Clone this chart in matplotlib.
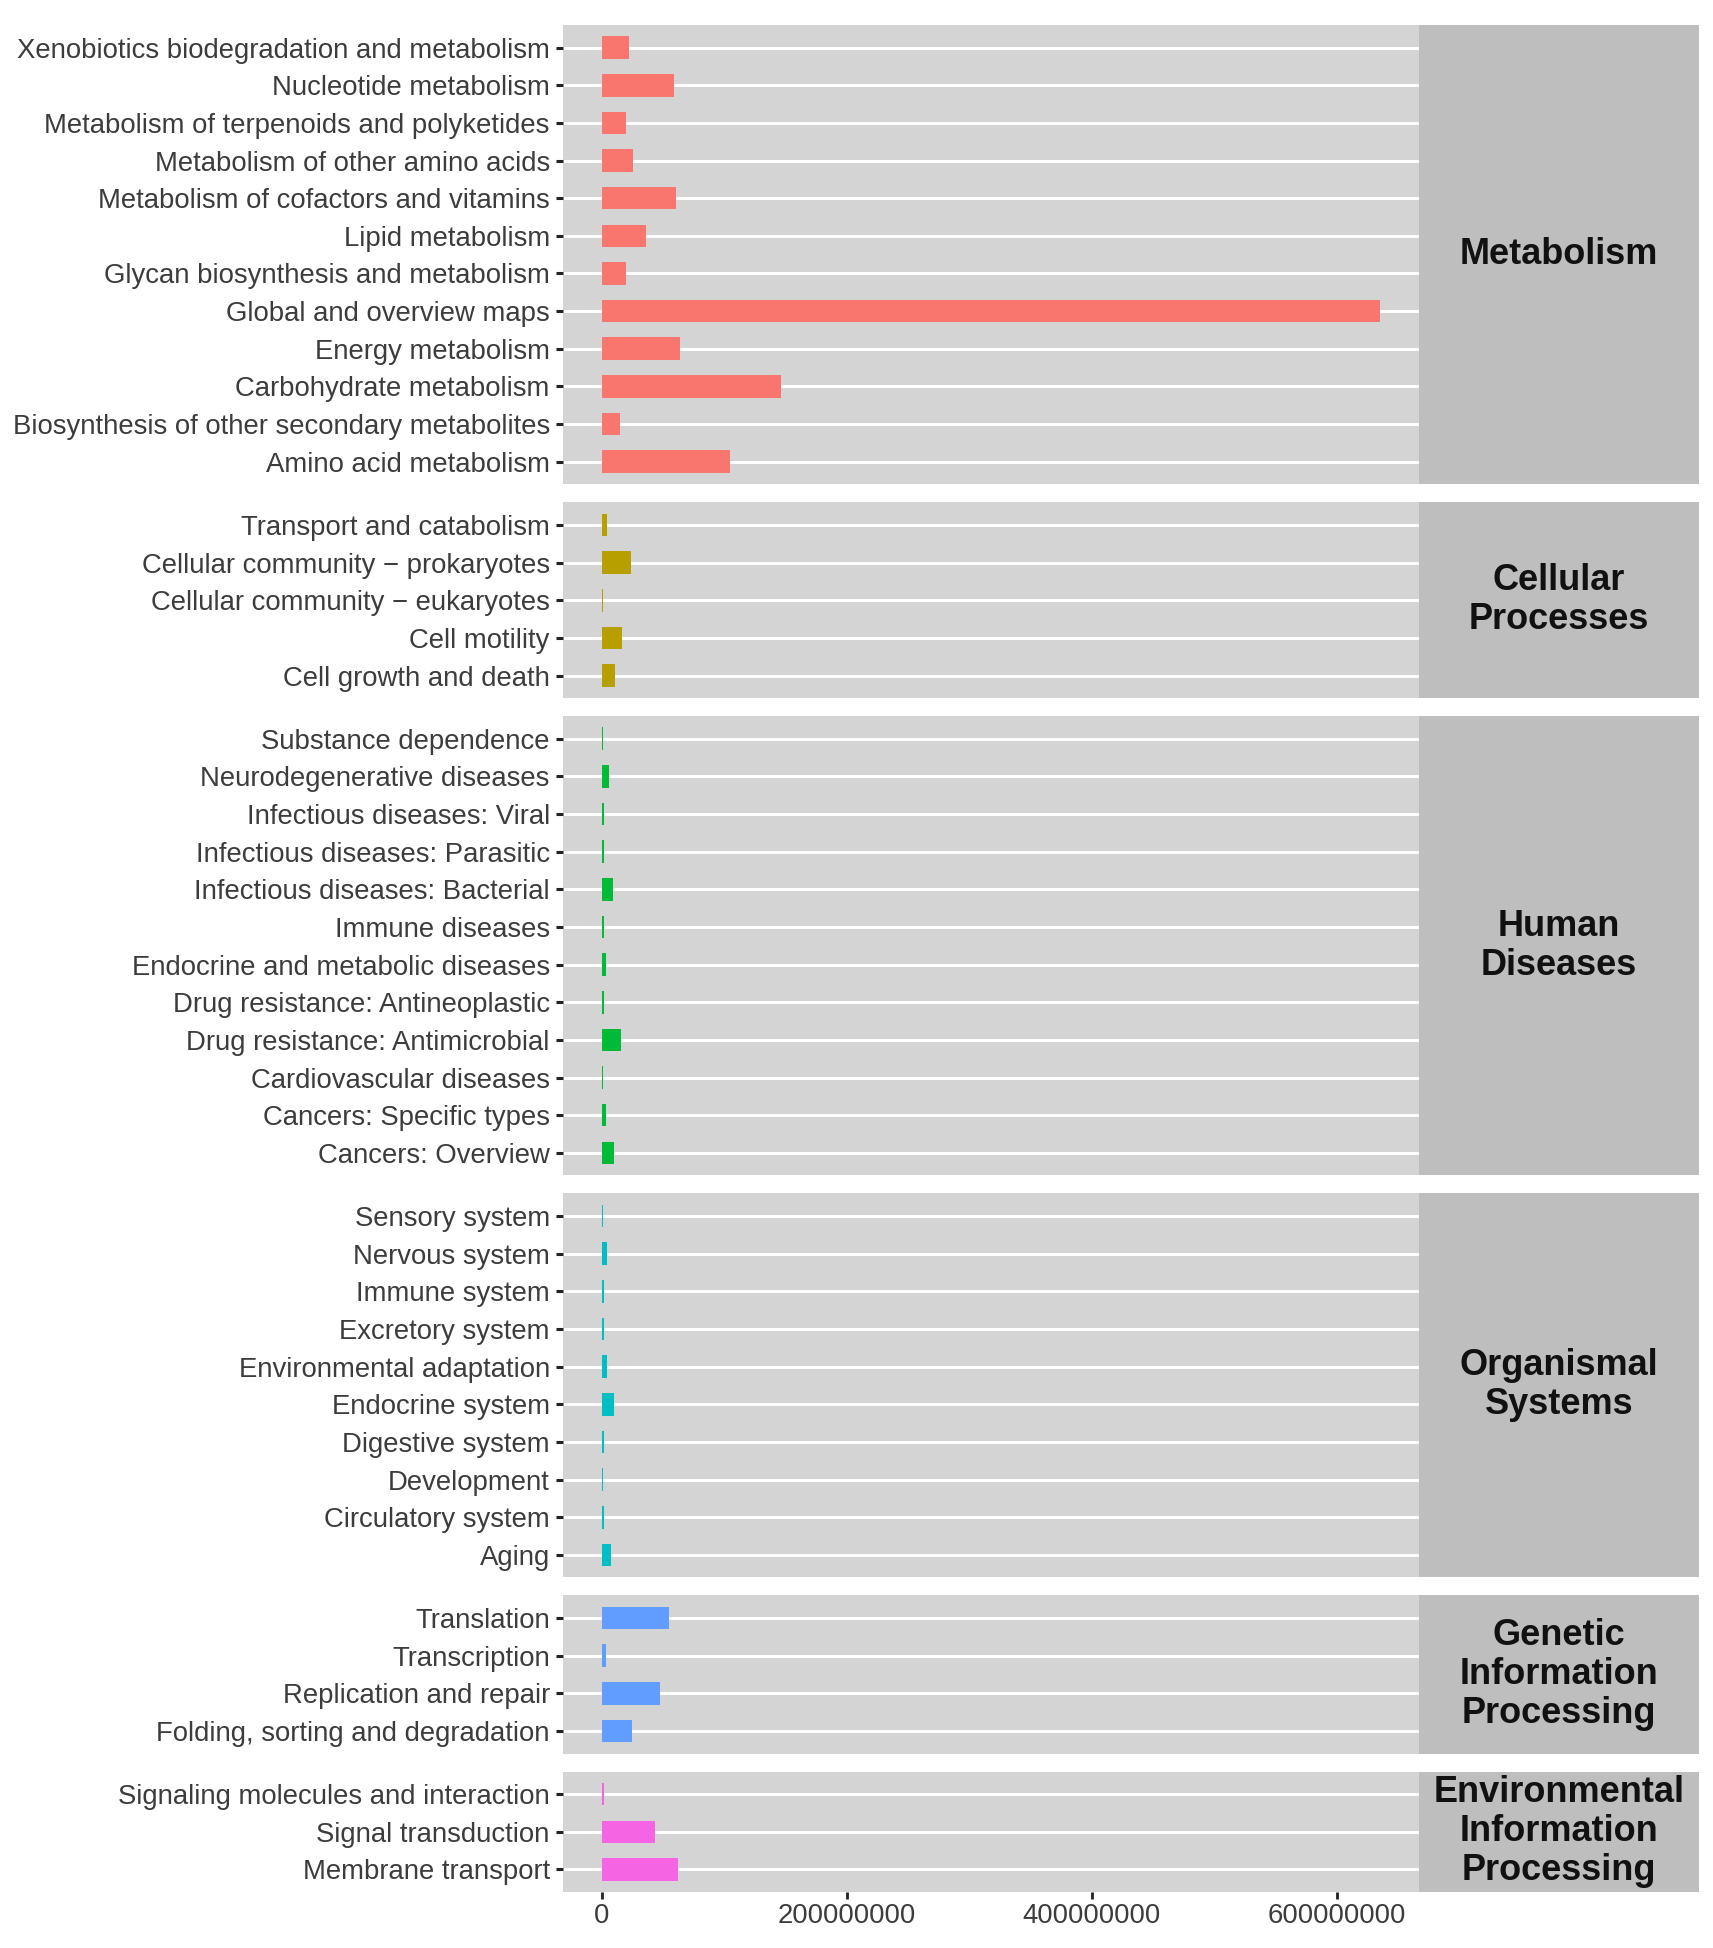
import matplotlib
matplotlib.use("Agg")
import matplotlib.pyplot as plt
from matplotlib.ticker import FixedLocator, FuncFormatter

# ---------------- data (top-to-bottom order as displayed) ----------------
categories = ["Metabolism", "Cellular Processes", "Human Diseases",
              "Organismal Systems", "Genetic Information Processing",
              "Environmental Information Processing"]
strip_labels = ["Metabolism", "Cellular\nProcesses", "Human\nDiseases",
                "Organismal\nSystems", "Genetic\nInformation\nProcessing",
                "Environmental\nInformation\nProcessing"]
colors = ["#F8766D", "#B79F00", "#00BA38", "#00BFC4", "#619CFF", "#F564E3"]

metabolism_terms = ["Xenobiotics biodegradation and metabolism", "Nucleotide metabolism",
                    "Metabolism of terpenoids and polyketides", "Metabolism of other amino acids",
                    "Metabolism of cofactors and vitamins", "Lipid metabolism",
                    "Glycan biosynthesis and metabolism", "Global and overview maps",
                    "Energy metabolism", "Carbohydrate metabolism",
                    "Biosynthesis of other secondary metabolites", "Amino acid metabolism"]
metabolism_values = [21800000, 58700000, 20000000, 25400000, 60500000, 36300000,
                     20000000, 635500000, 64000000, 146000000, 15000000, 104600000]

cellular_terms = ["Transport and catabolism", "Cellular community \u2212 prokaryotes",
                  "Cellular community \u2212 eukaryotes", "Cell motility", "Cell growth and death"]
cellular_values = [4400000, 23700000, 500000, 16000000, 10900000]

human_terms = ["Substance dependence", "Neurodegenerative diseases", "Infectious diseases: Viral",
               "Infectious diseases: Parasitic", "Infectious diseases: Bacterial", "Immune diseases",
               "Endocrine and metabolic diseases", "Drug resistance: Antineoplastic",
               "Drug resistance: Antimicrobial", "Cardiovascular diseases",
               "Cancers: Specific types", "Cancers: Overview"]
human_values = [600000, 5400000, 1600000, 1600000, 9000000, 1600000,
                3500000, 1600000, 15200000, 800000, 3000000, 9800000]

organismal_terms = ["Sensory system", "Nervous system", "Immune system", "Excretory system",
                    "Environmental adaptation", "Endocrine system", "Digestive system",
                    "Development", "Circulatory system", "Aging"]
organismal_values = [500000, 3800000, 1900000, 1600000, 3800000, 9500000,
                     1900000, 500000, 1600000, 7100000]

genetic_terms = ["Translation", "Transcription", "Replication and repair",
                 "Folding, sorting and degradation"]
genetic_values = [54800000, 3700000, 47700000, 24200000]

environmental_terms = ["Signaling molecules and interaction", "Signal transduction",
                       "Membrane transport"]
environmental_values = [1500000, 43700000, 62000000]

x_ticks = [0, 200000000, 400000000, 600000000]

groups = [(metabolism_terms, metabolism_values),
          (cellular_terms, cellular_values),
          (human_terms, human_values),
          (organismal_terms, organismal_values),
          (genetic_terms, genetic_values),
          (environmental_terms, environmental_values)]

# ---------------- layout ----------------
W, H, DPI = 1713, 1948, 100
fig = plt.figure(figsize=(W / DPI, H / DPI), dpi=DPI)
fig.patch.set_facecolor("white")
plt.rcParams["font.family"] = ["Liberation Sans", "DejaVu Sans"]

panel_left, panel_right, strip_right = 563, 1419, 1699
top_px, unit, gap = 25, 37.65, 18

panel_bg = "#D4D4D4"
strip_bg = "#BEBEBE"
text_col = "#3C3C3C"
tick_col = "#222222"
label_fs = 19.8
strip_fs = 26

all_vals = [v for _, vals in groups for v in vals]
vmax = max(all_vals)
vmin = 0
span = vmax - vmin
xlim = (vmin - 0.05 * span, vmax + 0.05 * span)

y = top_px
for i, ((terms, vals), cat) in enumerate(zip(groups, categories)):
    n = len(terms)
    h = (n + 0.2) * unit
    rect = [panel_left / W, 1 - (y + h) / H, (panel_right - panel_left) / W, h / H]
    ax = fig.add_axes(rect)
    ax.set_facecolor(panel_bg)
    for s in ax.spines.values():
        s.set_visible(False)
    pos = list(range(n - 1, -1, -1))
    ax.set_axisbelow(True)
    ax.yaxis.grid(True, color="white", linewidth=2.1)
    ax.xaxis.grid(False)
    ax.barh(pos, vals, height=0.6, color=colors[i], zorder=3)
    ax.set_yticks(pos)
    ax.set_yticklabels(terms, fontsize=label_fs, color=text_col)
    ax.set_ylim(-0.6, n - 1 + 0.6)
    ax.set_xlim(*xlim)
    ax.tick_params(axis="y", length=5, width=2.2, color=tick_col, pad=4.5)
    ax.xaxis.set_major_locator(FixedLocator(x_ticks))
    if i == len(groups) - 1:
        ax.xaxis.set_major_formatter(FuncFormatter(lambda v, p: "%d" % v))
        ax.tick_params(axis="x", length=5, width=2, color=tick_col, pad=3,
                       labelsize=label_fs, labelcolor=text_col)
    else:
        ax.tick_params(axis="x", length=0, labelbottom=False)

    srect = [panel_right / W, 1 - (y + h) / H, (strip_right - panel_right) / W, h / H]
    sax = fig.add_axes(srect)
    sax.set_facecolor(strip_bg)
    sax.set_xticks([])
    sax.set_yticks([])
    for s in sax.spines.values():
        s.set_visible(False)
    sax.text(0.5, 0.5, strip_labels[i], ha="center", va="center", fontsize=strip_fs,
             fontweight="bold", color="#111111", linespacing=1.15,
             transform=sax.transAxes)
    y += h + gap

fig.savefig("out.png", dpi=DPI, facecolor="white")
